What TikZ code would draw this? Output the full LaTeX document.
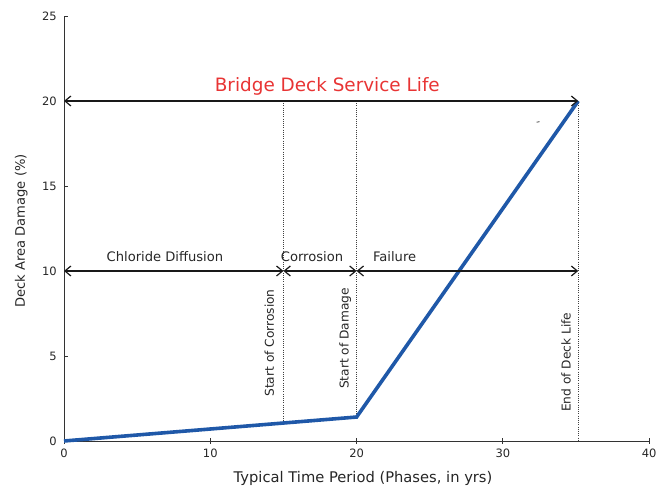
\documentclass[tikz,border=0pt]{standalone}
\usepackage{fontspec}
\setmainfont{DejaVu Sans}
\usetikzlibrary{arrows.meta}
\definecolor{damageblue}{RGB}{31,88,168}
\definecolor{titlered}{RGB}{232,52,52}
\begin{document}
\begin{tikzpicture}[x=14.63pt,y=17pt,
  axisline/.style={line width=0.9pt, black!80},
  span/.style={line width=1.2pt, black!90,
    {Straight Barb[length=6pt,width=10pt]}-{Straight Barb[length=6pt,width=10pt]}},
  guide/.style={dash pattern=on 1pt off 1.2pt, line width=0.9pt, black!75},
  curve/.style={line width=3.6pt, damageblue, line join=miter},
  lbl/.style={font=\fontsize{11.5}{14}\selectfont, text=black!85, inner sep=0pt},
  phase/.style={lbl, font=\fontsize{13.1}{15}\selectfont, anchor=base},
  atitle/.style={lbl, font=\fontsize{14.7}{17}\selectfont, anchor=base},
  vlbl/.style={lbl, font=\fontsize{12.2}{15}\selectfont, rotate=90, anchor=mid west},
]
\useasboundingbox (-64pt,-48pt) rectangle (592pt,441pt);

% axes
\coordinate (o) at (0,0);
\coordinate (xend) at (40,0);
\coordinate (yend) at (0,25);
\draw[axisline] (xend) -- (o) -- (yend);
\foreach \x in {0,10,20,30,40} {
  \draw[axisline] (\x,0) ++(0,-3pt) -- ++(0,6pt);
  \node[lbl, anchor=north] (xt\x) at ([yshift=-8pt]\x,0) {\x};
}
\foreach \y in {0,5,10,15,20,25} {
  \draw[axisline] (0,\y) -- ++(4pt,0);
  \node[lbl, anchor=east] (yt\y) at ([xshift=-7pt]0,\y) {\y};
}
\node[atitle] (xtitle) at (20.44,-2.47) {Typical Time Period (Phases, in yrs)};
\node[atitle, font=\fontsize{13.1}{16}\selectfont, rotate=90] (ytitle) at (-2.67,12.35) {Deck Area Damage (\%)};

% phase boundaries
\coordinate (c0) at (15,1.06);
\coordinate (c1) at (20,1.41);
\coordinate (c2) at (35.15,20);
\coordinate (c3) at (35.15,0);
\draw[guide] (15,20) -- (c0);
\draw[guide] (20,20) -- (c1);
\draw[guide] (c2) -- (c3);

% damage curve
\draw[curve] (o) -- (c1) -- (c2);

% service life span
\coordinate (s0) at (0,20);
\draw[span] (s0) -- (c2);
\node[font=\fontsize{18.4}{22}\selectfont, text=titlered, anchor=base] (title) at (18,20.53) {Bridge Deck Service Life};

% phase spans
\coordinate (a0) at (0,10);
\coordinate (a1) at (15,10);
\coordinate (a2) at (20,10);
\coordinate (a3) at (35.15,10);
\draw[span] (a0) -- (a1);
\draw[span] (a1) -- (a2);
\draw[span] (a2) -- (a3);
\node[phase] (ph1) at (6.9,10.55) {Chloride Diffusion};
\node[phase] (ph2) at (16.95,10.55) {Corrosion};
\node[phase] (ph3) at (22.6,10.55) {Failure};

% event labels
\node[vlbl] (ev1) at (14.15,2.6) {Start of Corrosion};
\node[vlbl] (ev2) at (19.27,3.05) {Start of Damage};
\node[vlbl] (ev3) at (34.45,1.7) {End of Deck Life};

% small stroke near the upper curve
\draw[line width=0.8pt, black!70] (32.3,18.75) -- ++(3pt,0.6pt);
\end{tikzpicture}
\end{document}
